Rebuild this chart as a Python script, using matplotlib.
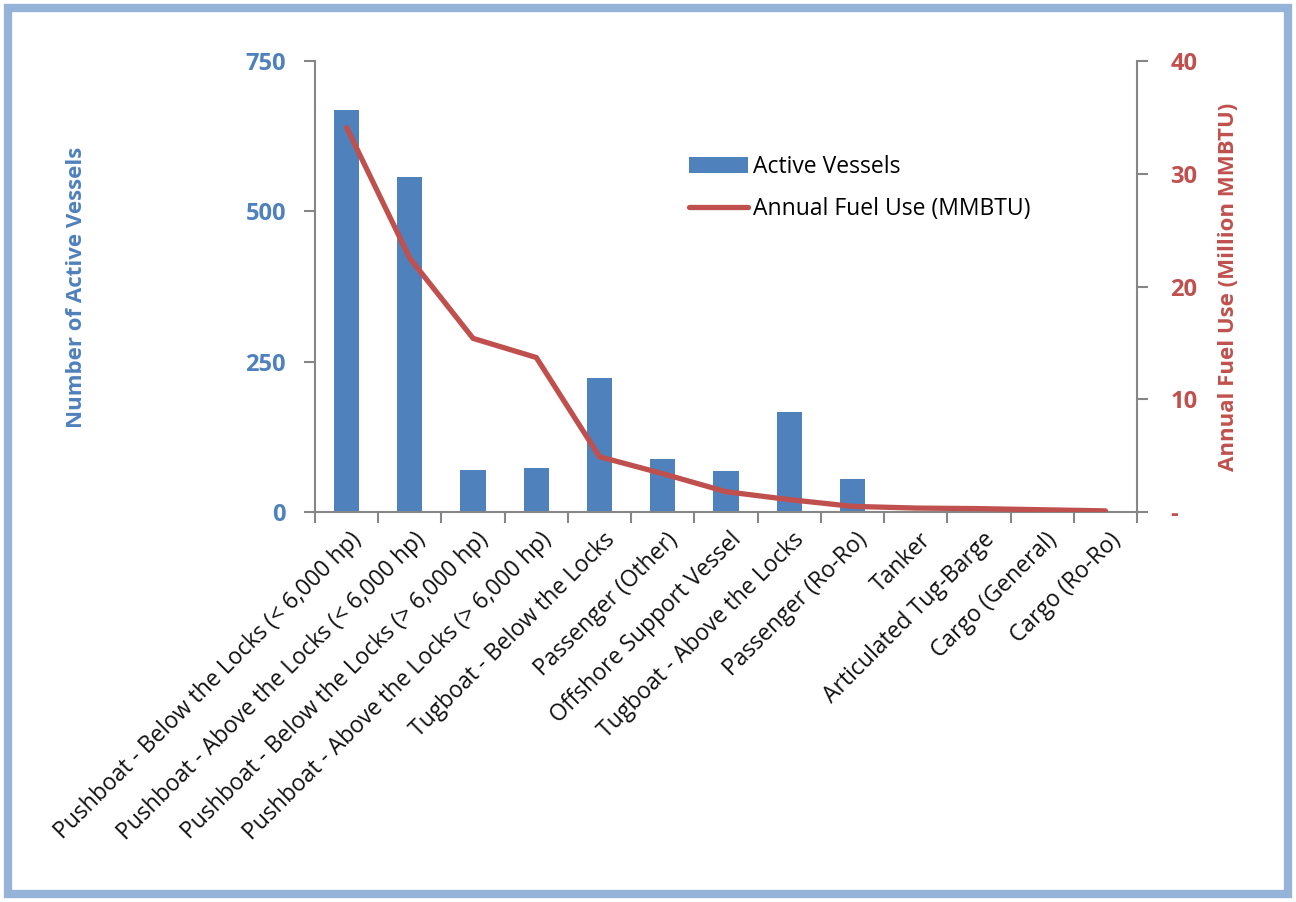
import matplotlib
matplotlib.use("Agg")
import matplotlib.pyplot as plt
from matplotlib.patches import Rectangle

plt.rcParams['font.family'] = ['Open Sans', 'DejaVu Sans']

categories = [
    "Pushboat - Below the Locks (< 6,000 hp)",
    "Pushboat - Above the Locks (< 6,000 hp)",
    "Pushboat - Below the Locks (> 6,000 hp)",
    "Pushboat - Above the Locks (> 6,000 hp)",
    "Tugboat - Below the Locks",
    "Passenger (Other)",
    "Offshore Support Vessel",
    "Tugboat - Above the Locks",
    "Passenger (Ro-Ro)",
    "Tanker",
    "Articulated Tug-Barge",
    "Cargo (General)",
    "Cargo (Ro-Ro)",
]
active_vessels = [668, 557, 70, 73, 223, 88, 68, 166, 55, 1, 1, 1, 1]
fuel_use = [34.1, 22.5, 15.4, 13.7, 4.9, 3.4, 1.8, 1.1, 0.5, 0.35, 0.3, 0.2, 0.1]

left_ticks = [0, 250, 500, 750]
right_ticks = [0, 10, 20, 30, 40]
right_labels = ["-", "10", "20", "30", "40"]

blue = "#4F81BD"
red = "#C0504D"
gray = "#868686"

fig = plt.figure(figsize=(12.96, 9.02), dpi=100)
ax = fig.add_axes([315 / 1296, 1 - 512 / 902, 822 / 1296, 451 / 902])
ax2 = ax.twinx()

x = list(range(len(categories)))
bars = ax.bar(x, active_vessels, width=0.4, color=blue, zorder=2,
              label="Active Vessels")
line, = ax2.plot(x, fuel_use, color=red, lw=3.8, solid_capstyle="round",
                 label="Annual Fuel Use (MMBTU)")

ax.set_xlim(-0.5, len(categories) - 0.5)
ax.set_ylim(0, 750)
ax2.set_ylim(0, 40)

ax.set_yticks(left_ticks)
ax.set_yticklabels([str(t) for t in left_ticks], color=blue,
                   fontsize=17, fontweight="bold")
ax2.set_yticks(right_ticks)
ax2.set_yticklabels(right_labels, color=red, fontsize=17, fontweight="bold")

for a in (ax, ax2):
    for s in a.spines.values():
        s.set_color(gray)
        s.set_linewidth(1.5)
    a.spines["top"].set_visible(False)
ax.spines["right"].set_visible(False)
ax2.spines["left"].set_visible(False)
ax2.spines["bottom"].set_visible(False)

ax.tick_params(axis="y", length=8, width=1.5, color=gray, pad=13)
ax2.tick_params(axis="y", length=8, width=1.5, color=gray, pad=16)

# category boundary ticks
ax.set_xticks([i - 0.5 for i in range(len(categories) + 1)])
ax.set_xticklabels([])
ax.tick_params(axis="x", length=8, width=1.5, color=gray)
for i, c in enumerate(categories):
    ax.text(i + 0.05, -0.035, c, transform=ax.get_xaxis_transform(),
            rotation=45, rotation_mode="anchor", ha="right", va="top",
            fontsize=16.5, color="#111111")

fig.text(77 / 1296, 1 - 287 / 902, "Number of Active Vessels", rotation=90,
         ha="center", va="center", color=blue, fontsize=16,
         fontweight="bold")
fig.text(1228 / 1296, 1 - 287 / 902, "Annual Fuel Use (Million MMBTU)",
         rotation=90, ha="center", va="center", color=red, fontsize=16,
         fontweight="bold")

fig.legend([bars, line], ["Active Vessels", "Annual Fuel Use (MMBTU)"],
           loc="upper left", bbox_to_anchor=(668 / 1296, 1 - 134 / 902),
           frameon=False, fontsize=16.5, handlelength=2.6, labelspacing=0.8,
           handletextpad=0.2)

fig.patches.append(Rectangle((8 / 1296, 8 / 902), 1 - 16 / 1296, 1 - 16 / 902,
                             transform=fig.transFigure, fill=False,
                             edgecolor="#95B3D7", linewidth=6))

fig.savefig("out.png", dpi=100)
